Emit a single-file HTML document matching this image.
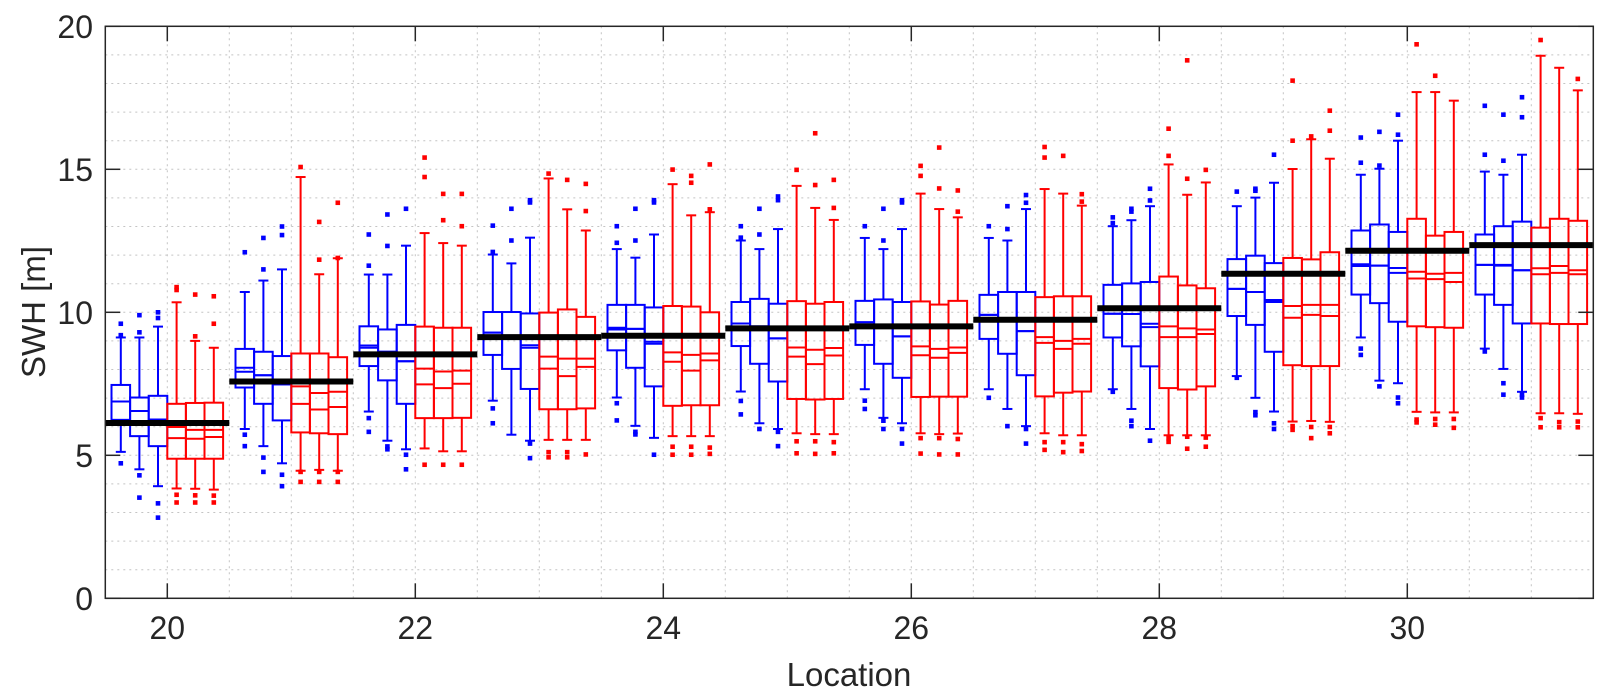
<!DOCTYPE html>
<html><head><meta charset="utf-8"><style>
html,body{margin:0;padding:0;background:#fff;}
svg{display:block;}
text{font-family:"Liberation Sans",sans-serif;fill:#262626;}
</style></head><body>
<svg id="chart" width="1608" height="699" viewBox="0 0 1608 699" xmlns="http://www.w3.org/2000/svg">
<rect x="0" y="0" width="1608" height="699" fill="#fff"/>
<g id="grid"></g>
<g id="marks"></g>
<g id="axes"></g>
<text x="849" y="686" font-size="33" text-anchor="middle">Location</text>
<text transform="translate(45,312) rotate(-90)" font-size="33" text-anchor="middle">SWH [m]</text>
</svg>
<script>
const locations=[20,21,22,23,24,25,26,27,28,29,30,31];
const meanLine=[6.13,7.58,8.53,9.13,9.18,9.44,9.51,9.74,10.14,11.35,12.15,12.35];
const q3=[[7.46,7.02,7.08,6.8,6.83,6.84],[8.72,8.62,8.47,8.56,8.56,8.43],[9.51,9.4,9.56,9.5,9.46,9.46],[10.01,10.01,9.96,9.99,10.1,9.84],[10.26,10.26,10.17,10.22,10.2,10.0],[10.36,10.47,10.3,10.39,10.3,10.36],[10.4,10.45,10.36,10.38,10.27,10.4],[10.61,10.71,10.71,10.53,10.56,10.56],[10.96,11.01,11.06,11.25,10.94,10.84],[11.86,11.98,11.72,11.9,11.85,12.1],[12.86,13.07,12.81,13.27,12.68,12.81],[12.72,13.01,13.17,12.96,13.27,13.2]];
const med=[[6.88,6.55,6.25,5.99,5.89,5.89],[8.06,7.8,7.48,7.41,7.18,7.22],[8.84,8.62,8.29,8.03,7.93,7.96],[9.29,9.1,8.85,8.45,8.38,8.38],[9.46,9.42,8.97,8.6,8.51,8.56],[9.61,9.51,9.09,8.77,8.69,8.75],[9.65,9.55,9.16,8.81,8.72,8.77],[9.91,9.77,9.34,9.13,9.0,9.07],[9.95,9.94,9.6,9.51,9.44,9.4],[10.82,10.71,10.43,10.22,10.26,10.26],[11.68,11.63,11.55,11.42,11.35,11.38],[11.66,11.66,11.47,11.54,11.62,11.47]];
const med2=[[6.88,6.55,6.25,5.6,5.58,5.64],[7.92,7.8,7.48,6.8,6.6,6.69],[8.76,8.62,8.29,7.48,7.35,7.5],[9.29,9.1,8.76,8.03,7.77,8.09],[9.4,9.42,8.9,8.27,7.96,8.32],[9.61,9.51,9.09,8.45,8.19,8.49],[9.65,9.55,9.16,8.5,8.41,8.58],[9.91,9.77,9.34,8.93,8.72,8.9],[9.95,9.94,9.48,9.13,9.13,9.24],[10.82,10.71,10.36,9.81,9.91,9.87],[11.62,11.63,11.38,11.18,11.16,11.06],[11.66,11.63,11.47,11.33,11.38,11.33]];
const q1=[[6.24,5.67,5.32,4.88,4.88,4.88],[7.37,6.8,6.22,5.8,5.77,5.74],[8.12,7.62,6.8,6.3,6.3,6.31],[8.51,8.02,7.32,6.61,6.61,6.64],[8.67,8.06,7.41,6.73,6.75,6.75],[8.82,8.2,7.58,6.97,6.95,6.97],[8.86,8.2,7.71,7.04,7.05,7.05],[9.07,8.55,7.8,7.06,7.19,7.23],[9.12,8.81,8.11,7.35,7.3,7.41],[9.87,9.56,8.62,8.15,8.12,8.12],[10.62,10.32,9.67,9.51,9.48,9.46],[10.62,10.26,9.61,9.61,9.59,9.59]];
const whiskerHigh=[[9.12,9.12,9.5,10.35,9.0,8.76],[10.71,11.11,11.5,14.73,11.33,11.89],[11.32,11.32,12.33,12.77,12.42,12.33],[12.02,11.71,12.61,14.68,13.6,12.86],[12.21,11.91,12.72,14.48,13.39,13.5],[12.51,12.21,12.91,14.42,13.65,13.23],[12.6,12.21,12.91,14.15,13.61,13.32],[12.6,12.51,13.61,14.31,14.15,13.73],[13.01,13.22,13.71,15.17,14.11,14.54],[13.71,14.01,14.53,15.01,16.05,15.37],[14.81,15.02,16.0,17.7,17.7,17.4],[14.92,14.81,15.51,18.97,18.55,17.76]];
const whiskerLow=[[5.12,4.51,3.92,3.84,3.83,3.8],[5.92,5.32,4.72,4.46,4.49,4.46],[6.53,5.51,5.21,5.24,5.14,5.14],[6.91,5.72,5.51,5.54,5.54,5.54],[7.02,6.03,5.61,5.67,5.67,5.67],[7.23,6.12,5.92,5.77,5.74,5.74],[7.31,6.31,6.12,5.77,5.74,5.76],[7.31,6.62,6.02,5.77,5.7,5.7],[7.31,6.62,5.92,5.7,5.7,5.7],[7.77,7.01,6.53,6.18,6.2,6.17],[9.12,7.61,7.52,6.52,6.5,6.5],[8.73,8.02,7.22,6.47,6.47,6.45]];
const outliers=[
[[9.6,9.2,4.72],[9.9,9.3,4.3,3.52],[10.0,9.8,3.32,2.82],[10.88,10.78,3.62,3.35],[10.62,9.16,3.6,3.35],[10.56,9.6,3.59,3.35]],
[[12.1,5.72,5.32],[12.6,11.5,4.92,4.42],[13.0,12.7,4.32,3.92],[15.08,4.42,4.07],[13.16,11.84,4.42,4.07],[13.83,11.9,4.42,4.07]],
[[12.72,11.63,6.3,5.82],[13.42,12.32,5.31,5.21],[13.62,5.02,4.51],[15.41,14.73,4.67],[14.14,13.22,4.67],[14.14,13.01,4.67]],
[[13.03,12.11,6.64,6.12],[13.62,12.51],[13.92,13.84,5.41,4.9],[14.85,5.11,4.93],[14.63,5.11,4.93],[14.49,13.54,5.03]],
[[13.01,12.43,6.82,6.22],[13.62,12.51,5.82,5.73],[13.92,13.84,5.02],[14.99,5.3,5.02],[14.77,14.53,5.3,5.02],[15.17,13.6,5.27,5.05]],
[[13.01,12.61,6.9,6.43],[13.62,12.72,5.92],[14.05,13.92,5.82,5.32],[14.98,5.49,5.07],[16.26,14.45,5.49,5.05],[14.63,13.65,5.46,5.07]],
[[13.01,6.91,6.62],[13.62,12.51,6.21,5.92],[13.92,13.84,5.92,5.41],[15.12,14.77,5.6,5.06],[15.76,14.33,5.6,5.03],[14.26,13.52,5.57,5.03]],
[[13.01,7.01],[13.71,12.91,6.02],[14.1,13.83,5.92,5.41],[15.78,15.41,5.46,5.19],[15.47,5.46,5.11],[14.13,13.87,5.39,5.15]],
[[13.32,13.12,7.22],[13.62,13.52,6.21,6.02],[14.32,13.91,5.51],[16.42,15.47,5.6,5.47],[18.81,14.67,5.65,5.23],[14.98,5.62,5.3]],
[[14.22,7.71],[14.32,14.25,6.51,6.4],[15.51,6.12,5.92],[18.1,16.0,6.02,5.89],[16.15,5.99,5.6],[17.05,16.35,5.99,5.77]],
[[16.11,15.23,8.73,8.51],[16.31,15.13,7.41],[16.91,16.21,7.02,6.82],[19.37,6.25,6.15],[18.27,6.27,6.07],[6.27,5.96]],
[[17.22,15.51,8.63],[16.91,15.3,7.52,7.12],[17.52,16.82,7.12,7.02],[19.52,6.3,5.98],[6.16,5.98],[18.16,6.18,5.98]]];
const xTicks=[20,22,24,26,28,30];
const yTicks=[0,5,10,15,20];
const boxColors=['#0000ff','#0000ff','#0000ff','#ff0000','#ff0000','#ff0000'];

const NS='http://www.w3.org/2000/svg';
const L=105.3,R=1593.3,T=26.3,B=598.3,X0=19.5,X1=31.5,Y0=0,Y1=20;
function xs(v){return L+(v-X0)/(X1-X0)*(R-L);}
function ys(v){return B-(v-Y0)/(Y1-Y0)*(B-T);}
function mk(parent,tag,attrs){const e=document.createElementNS(NS,tag);for(const k in attrs)e.setAttribute(k,attrs[k]);parent.appendChild(e);return e;}
const grid=document.getElementById('grid'),marks=document.getElementById('marks'),axes=document.getElementById('axes');
for(let v=X0+0.5;v<X1;v+=0.5){
  const g=mk(grid,'line',{x1:xs(v),x2:xs(v),y1:T,y2:B,stroke:'#c4c4c4','stroke-width':1,'stroke-dasharray':'2,4'});
  
  
}
for(let v=Y0+1;v<Y1;v+=1){
  const g=mk(grid,'line',{x1:L,x2:R,y1:ys(v),y2:ys(v),stroke:'#c4c4c4','stroke-width':1,'stroke-dasharray':'2,4'});
  
  
}
const step=(xs(1)-xs(0))*0.15, bw=step;
const cap=5;
locations.forEach((loc,li)=>{
  for(let i=0;i<6;i++){
    const c=xs(loc)+(i-2.5)*step, col=boxColors[i];
    const g=mk(marks,'g',{stroke:col,'stroke-width':2,fill:'none'});
    
    
    mk(g,'line',{x1:c,x2:c,y1:ys(whiskerHigh[li][i]),y2:ys(q3[li][i])});
    mk(g,'line',{x1:c,x2:c,y1:ys(q1[li][i]),y2:ys(whiskerLow[li][i])});
    mk(g,'line',{x1:c-cap,x2:c+cap,y1:ys(whiskerHigh[li][i]),y2:ys(whiskerHigh[li][i])});
    mk(g,'line',{x1:c-cap,x2:c+cap,y1:ys(whiskerLow[li][i]),y2:ys(whiskerLow[li][i])});
    mk(g,'rect',{x:c-bw/2,y:ys(q3[li][i]),width:bw,height:ys(q1[li][i])-ys(q3[li][i])});
    mk(g,'line',{x1:c-bw/2,x2:c+bw/2,y1:ys(med[li][i]),y2:ys(med[li][i])});
    mk(g,'line',{x1:c-bw/2,x2:c+bw/2,y1:ys(med2[li][i]),y2:ys(med2[li][i])});
    outliers[li][i].forEach(o=>{
      const d=mk(g,'rect',{x:c-2.3,y:ys(o)-2.3,width:4.6,height:4.6,fill:col,stroke:'none'});
      
      
    });
  }
  const a=Math.max(L,xs(loc-0.5)), b=Math.min(R,xs(loc+0.5));
  const m=mk(marks,'line',{x1:a,x2:b,y1:ys(meanLine[li]),y2:ys(meanLine[li]),stroke:'#000','stroke-width':6});
  
  
});
const frame=mk(axes,'rect',{x:L,y:T,width:R-L,height:B-T,fill:'none',stroke:'#262626','stroke-width':1.5});


xTicks.forEach(v=>{
  mk(axes,'line',{x1:xs(v),x2:xs(v),y1:B,y2:B-15,stroke:'#262626','stroke-width':1.5});
  mk(axes,'line',{x1:xs(v),x2:xs(v),y1:T,y2:T+15,stroke:'#262626','stroke-width':1.5});
  const t=mk(axes,'text',{x:xs(v),y:639,'font-size':32,'text-anchor':'middle'});
  t.textContent=v;
  
  
});
yTicks.forEach(v=>{
  mk(axes,'line',{x1:L,x2:L+15,y1:ys(v),y2:ys(v),stroke:'#262626','stroke-width':1.5});
  mk(axes,'line',{x1:R,x2:R-15,y1:ys(v),y2:ys(v),stroke:'#262626','stroke-width':1.5});
  const t=mk(axes,'text',{x:93,y:ys(v)+11.5,'font-size':32,'text-anchor':'end'});
  t.textContent=v;
  
  
});
</script>
</body></html>
